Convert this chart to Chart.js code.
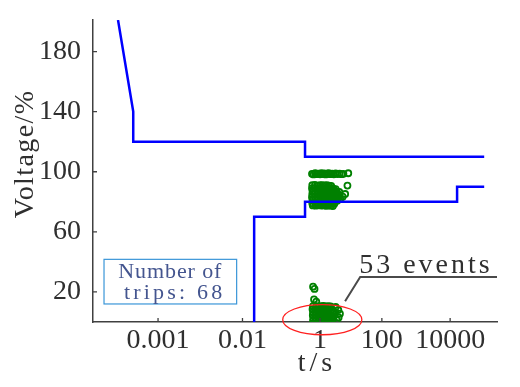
<!DOCTYPE html>
<html><head><meta charset="utf-8">
<script src="https://cdn.jsdelivr.net/npm/chart.js"></script>
<style>html,body{margin:0;padding:0;background:#fff;}canvas{display:block;}</style>
</head><body>
<canvas id="c" width="520" height="387"></canvas>
<script>
// ---------- data ----------
const xTickValues = [0.001, 0.01, 1, 100, 10000];
const xTickLabels = ['0.001', '0.01', '1', '100', '10000'];
const yTickValues = [20, 60, 100, 140, 180];

// tolerance curves (t in s, voltage in %)
const upperT = [1.0e-4, 2.4e-4, 2.4e-4, 0.41, 0.41, 1e5];
const upperV = [201, 140, 120, 120, 110, 110];
const lowerT = [0.02, 0.02, 0.41, 0.41, 16000, 16000, 1e5];
const lowerV = [0, 70, 70, 80, 80, 90, 90];

// recorded events: row near 98 %
const highT = [0.62,0.68,0.75,0.82,0.9,1.0,1.1,1.22,1.36,1.52,1.7,1.9,2.15,2.45,2.8,3.2,3.7,4.3,5.0,5.7,8.2];
const highV = [98.6,98.2,99.0,98.4,98.8,98.3,99.1,98.5,98.9,98.2,98.7,99.0,98.4,98.8,98.3,98.9,98.5,98.7,98.4,98.6,99.0];

// recorded events: cluster 77-91 %
const midT = [
  0.63,0.74,0.87,1.0,1.18,1.4,1.65,1.95,2.3,
  0.62,0.72,0.84,0.98,1.15,1.35,1.6,1.9,2.25,2.7,3.2,
  0.64,0.75,0.88,1.03,1.22,1.45,1.72,2.05,2.45,2.9,3.5,4.2,
  0.63,0.73,0.86,1.0,1.18,1.4,1.66,1.98,2.35,2.8,3.35,4.0,
  0.62,0.74,0.87,1.02,1.2,1.43,1.7,2.0,2.4,2.85,3.4,4.1,
  0.64,0.75,0.88,1.04,1.23,1.46,1.74,2.07,2.5,3.0,3.6,
  0.63,0.74,0.86,1.01,1.2,1.42,1.68,2.0,2.4,2.9,
  0.65,0.77,0.92,1.1,1.3,1.55,1.85,2.2,
  7.7,6.5,5.4,4.5,2.6
];
const midV = [
  91,91.2,90.8,91,91.1,90.9,91,90.7,90.5,
  89,89.2,88.9,89,89.1,88.8,89,89.2,88.9,88.7,88.5,
  87,87.1,86.9,87.2,87,86.8,87.1,87,86.9,87.2,86.8,86.6,
  85,85.2,84.9,85.1,85,84.8,85.2,85,84.9,85.1,85,84.8,
  83,83.1,82.9,83.2,83,82.8,83.1,83,82.9,83.2,82.8,83.1,
  81,81.2,80.9,81.1,81,80.8,81.2,81,80.9,81.1,80.7,
  79,79.2,78.9,79.1,79,78.8,79.2,79,78.9,78.7,
  77.6,77.4,77.7,77.5,77.6,77.3,77.5,77.4,
  90.8,85.2,83.4,81.9,77.2
];

// recorded events: cluster 0-11 % (53 events + scattered)
const lowT = [
  0.66,0.8,0.95,1.1,1.3,1.55,1.85,2.2,
  0.64,0.74,0.88,1.02,1.2,1.42,1.7,2.0,2.5,
  0.66,0.78,0.92,1.08,1.28,1.5,1.8,2.15,2.6,
  0.65,0.76,0.9,1.05,1.25,1.48,1.75,2.1,2.45,
  0.67,0.8,0.94,1.12,1.33,1.6,1.9,2.3,2.7,
  0.66,0.77,0.9,1.06,1.26,1.5,1.78,2.1,2.5,
  0.66,0.72,0.70,0.8,3.9,4.4,4.0,3.5,3.2,2.9
];
const lowV = [
  10.5,10.6,10.4,10.5,10.7,10.4,10.5,10.3,
  8.5,8.6,8.4,8.5,8.7,8.4,8.5,8.6,8.3,
  6.5,6.6,6.4,6.5,6.7,6.4,6.5,6.6,6.3,
  4.5,4.6,4.4,4.5,4.7,4.4,4.5,4.6,4.3,
  2.5,2.6,2.4,2.5,2.7,2.4,2.5,2.6,2.3,
  0.8,0.9,0.7,0.8,1.0,0.7,0.8,0.9,0.6,
  23.5,22,15,13.5,8,5.5,3,1.2,10,6.5
];

const boxLines = ['Number of', ' trips: 68'];
const eventsLabel = '53 events';
const xTitle = 't/s';
const yTitle = 'Voltage/%';

// ---------- style / layout config ----------
const SERIF = "'Liberation Serif','Times New Roman',serif";
const X_MIN = Math.pow(10, -4.625), X_MAX = Math.pow(10, 5.376);
// piecewise log axis: [log10(t), fraction of axis length]
const axisKnots = [[-4.625,0],[-3,0.161],[-2,0.370],[0,0.562],[2,0.715],[4,0.884],[5.376,1]];

const annot = {
  box: { t0: 4.47e-5, t1: 0.00853, v0: 12.0, v1: 41.7, baseV: [29.2, 15.1] },
  ellipse: { t0: 0.109, t1: 22.5, v0: -8.5, v1: 11.6 },
  leader: [[6.46, 13.8], [19.9, 29.9], [X_MAX, 29.9]],
  label: { t: 18.4, v: 32.5 }
};

// ---------- custom piecewise-log scale ----------
const LogScale = Chart.LogarithmicScale || Chart.registry.getScale('logarithmic');
class PiecewiseLogScale extends LogScale {
  _frac(value) {
    const L = Math.log10(value);
    const k = axisKnots;
    let i = 0;
    while (i < k.length - 2 && L > k[i + 1][0]) i++;
    const [l0, f0] = k[i], [l1, f1] = k[i + 1];
    return f0 + (L - l0) * (f1 - f0) / (l1 - l0);
  }
  getPixelForValue(value) {
    if (!(value > 0)) value = this.min;
    return this.getPixelForDecimal(this._frac(value));
  }
  getValueForPixel(pixel) {
    const f = this.getDecimalForPixel(pixel);
    const k = axisKnots;
    let i = 0;
    while (i < k.length - 2 && f > k[i + 1][1]) i++;
    const [l0, f0] = k[i], [l1, f1] = k[i + 1];
    return Math.pow(10, l0 + (f - f0) * (l1 - l0) / (f1 - f0));
  }
}
PiecewiseLogScale.id = 'pwlog';
PiecewiseLogScale.defaults = LogScale.defaults;
Chart.register(PiecewiseLogScale);

const pts = (ts, vs) => ts.map((t, i) => ({ x: t, y: vs[i] }));

// ---------- decoration plugin ----------
const decor = {
  id: 'decor',
  afterDraw(chart) {
    const ctx = chart.ctx, xs = chart.scales.x, ys = chart.scales.y, ca = chart.chartArea;
    const X = t => xs.getPixelForValue(t), Y = v => ys.getPixelForValue(v);
    ctx.save();
    // inward tick marks
    ctx.strokeStyle = '#404040'; ctx.lineWidth = 1.3;
    ctx.beginPath();
    xs.ticks.forEach((t, i) => { const p = xs.getPixelForTick(i); ctx.moveTo(p, ca.bottom); ctx.lineTo(p, ca.bottom - 4); });
    ys.ticks.forEach((t, i) => { const p = ys.getPixelForTick(i); ctx.moveTo(ca.left, p); ctx.lineTo(ca.left + 4, p); });
    ctx.stroke();

    // axis titles
    ctx.fillStyle = '#2f2f2f';
    ctx.font = '28px ' + SERIF;
    ctx.textAlign = 'center'; ctx.textBaseline = 'middle';
    ctx.letterSpacing = '4px';
    ctx.fillText(xTitle, 317, 364);
    ctx.save();
    ctx.letterSpacing = '1.4px';
    ctx.translate(26, 154); ctx.rotate(-Math.PI / 2);
    ctx.fillText(yTitle, 0, 0);
    ctx.restore();

    // box
    const b = annot.box;
    const bx0 = X(b.t0), bx1 = X(b.t1), by0 = Y(b.v1), by1 = Y(b.v0);
    ctx.strokeStyle = '#3a96d8'; ctx.lineWidth = 1.2;
    ctx.strokeRect(bx0, by0, bx1 - bx0, by1 - by0);
    ctx.fillStyle = '#44558f';
    ctx.font = '22px ' + SERIF;
    ctx.textAlign = 'center'; ctx.textBaseline = 'alphabetic';
    ctx.letterSpacing = '0.9px';
    ctx.fillText(boxLines[0], (bx0 + bx1) / 2, Y(b.baseV[0]));
    ctx.letterSpacing = '3.2px';
    ctx.fillText(boxLines[1], (bx0 + bx1) / 2, Y(b.baseV[1]));

    // ellipse
    const e = annot.ellipse;
    const ex0 = X(e.t0), ex1 = X(e.t1), ey0 = Y(e.v1), ey1 = Y(e.v0);
    ctx.strokeStyle = '#ff2020'; ctx.lineWidth = 1.3;
    ctx.beginPath();
    ctx.ellipse((ex0 + ex1) / 2, (ey0 + ey1) / 2, (ex1 - ex0) / 2, (ey1 - ey0) / 2, 0, 0, Math.PI * 2);
    ctx.stroke();

    // leader line
    ctx.strokeStyle = '#4a4a4a'; ctx.lineWidth = 2;
    ctx.beginPath();
    annot.leader.forEach(([t, v], i) => { const px = Math.min(X(t), ca.right); i ? ctx.lineTo(px, Y(v)) : ctx.moveTo(px, Y(v)); });
    ctx.stroke();

    // events label
    ctx.fillStyle = '#2f2f2f';
    ctx.font = '28px ' + SERIF;
    ctx.textAlign = 'left'; ctx.textBaseline = 'alphabetic';
    ctx.letterSpacing = '3px';
    ctx.fillText(eventsLabel, X(annot.label.t), Y(annot.label.v));
    ctx.restore();
  }
};

const green = '#008000';
const markerStyle = { type: 'scatter', showLine: false, pointRadius: 3, pointBorderWidth: 1.8,
  pointBorderColor: green, pointBackgroundColor: 'rgba(0,0,0,0)', pointStyle: 'circle' };

new Chart(document.getElementById('c'), {
  type: 'scatter',
  data: {
    datasets: [
      { type: 'scatter', data: pts(upperT, upperV), showLine: true, borderColor: '#0000ff', borderWidth: 2.5, pointRadius: 0, fill: false },
      { type: 'scatter', data: pts(lowerT, lowerV), showLine: true, borderColor: '#0000ff', borderWidth: 2.5, pointRadius: 0, fill: false },
      Object.assign({ data: pts(highT, highV) }, markerStyle),
      Object.assign({ data: pts(midT, midV) }, markerStyle),
      Object.assign({ data: pts(lowT, lowV) }, markerStyle)
    ]
  },
  options: {
    responsive: false, animation: false, devicePixelRatio: 1,
    layout: { padding: { top: 20, right: 23, left: 0, bottom: 0 } },
    plugins: { legend: { display: false }, tooltip: { enabled: false } },
    scales: {
      x: {
        type: 'pwlog', min: X_MIN, max: X_MAX,
        grid: { display: false, drawTicks: false },
        border: { display: true, color: '#404040', width: 1.5 },
        ticks: { autoSkip: false, maxRotation: 0, minRotation: 0, padding: 2, color: '#2f2f2f',
          font: { family: SERIF, size: 28 }, callback: (v, i) => xTickLabels[i] },
        afterBuildTicks: s => { s.ticks = xTickValues.map(v => ({ value: v })); },
        afterFit: s => { s.height = 65; s.paddingLeft = 0; s.paddingRight = 0; }
      },
      y: {
        type: 'linear', min: 0, max: 201,
        grid: { display: false, drawTicks: false },
        border: { display: true, color: '#404040', width: 1.5 },
        ticks: { padding: 12, color: '#2f2f2f', font: { family: SERIF, size: 28 }, callback: v => String(v) },
        afterBuildTicks: s => { s.ticks = yTickValues.map(v => ({ value: v })); },
        afterFit: s => { s.width = 93; s.paddingTop = 0; s.paddingBottom = 0; }
      }
    }
  },
  plugins: [decor]
});
</script>
</body></html>
